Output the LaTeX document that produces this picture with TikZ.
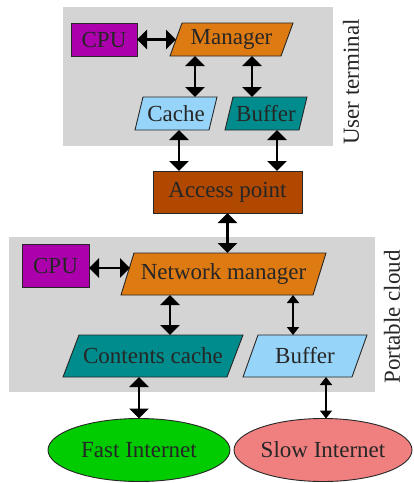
\documentclass[tikz,border=0pt]{standalone}
\usepackage{fontspec}
\setmainfont{Liberation Serif}
\usetikzlibrary{arrows.meta,shapes.geometric,calc,backgrounds}
\definecolor{cpuc}{RGB}{172,0,172}
\definecolor{mgrc}{RGB}{222,122,18}
\definecolor{cachec}{RGB}{150,212,250}
\definecolor{bufc}{RGB}{0,140,140}
\definecolor{apc}{RGB}{176,72,0}
\definecolor{grayc}{RGB}{212,212,212}
\definecolor{fastc}{RGB}{0,204,0}
\definecolor{slowc}{RGB}{240,128,128}
\tikzset{
  boxline/.style={draw=black!85, line width=0.9pt},
  txt/.style={rectangle, draw=none, inner sep=0pt, outer sep=0pt, text=black!85},
  rectbox/.style={rectangle, boxline, inner sep=0pt, outer sep=0pt, text=black!85},
  ellbox/.style={ellipse, boxline, inner sep=0pt, outer sep=0pt, text=black!85},
  arrT/.style={line width=2.8pt, {Triangle[width=19pt,length=10pt]}-{Triangle[width=19pt,length=10pt]}},
  arrS/.style={line width=1.8pt, {Triangle[width=12pt,length=8pt]}-{Triangle[width=12pt,length=8pt]}},
  sidelabel/.style={rotate=90, text=black!85},
  region/.style={fill=grayc, draw=none}
}
\newcommand\para[8]{%
  \node[txt, minimum width=#4pt, minimum height=#5pt] (#1) at (#2,#3) {#8};
  \begin{scope}[on background layer]
    \filldraw[fill=#7, boxline] ([xshift=#6pt]#1.north west) -- (#1.north east)
      -- ([xshift=-#6pt]#1.south east) -- (#1.south west) -- cycle;
  \end{scope}}
\begin{document}
\begin{tikzpicture}[x=1pt,y=-1pt,font=\fontsize{23}{25}\selectfont]
\useasboundingbox (0,0) rectangle (414,483);
\begin{scope}[on background layer]
  \fill[white] (0,0) rectangle (414,483);
  \fill[region] (63,7) rectangle (333,146);
  \fill[region] (9,237) rectangle (375,392);
\end{scope}
% user terminal
\node[rectbox, fill=cpuc, minimum width=66pt, minimum height=33pt] (cpu1) at (104,39.5) {CPU};
\para{mgr}{231.5}{39.5}{123}{33}{12}{mgrc}{Manager}
\para{cache}{176}{113.5}{82}{33}{8}{cachec}{Cache}
\para{buf1}{266}{113.5}{82}{33}{8}{bufc}{Buffer}
\node[sidelabel] (ut) at (351,82) {User terminal};
% access point
\node[rectbox, fill=apc, minimum width=149pt, minimum height=42pt] (ap) at (227.5,192) {Access point};
% portable cloud
\node[rectbox, fill=cpuc, minimum width=67pt, minimum height=43pt] (cpu2) at (55.5,265.5) {CPU};
\para{nm}{223.5}{274}{205}{42}{13}{mgrc}{Network manager}
\para{cc}{153}{356}{180}{42}{16}{bufc}{Contents cache}
\para{buf2}{305}{356}{124}{42}{15}{cachec}{Buffer}
\node[sidelabel] (pc) at (392,317) {Portable cloud};
% internet
\node[ellbox, fill=fastc, minimum width=182pt, minimum height=63pt] (fast) at (139,450) {Fast Internet};
\node[ellbox, fill=slowc, minimum width=178pt, minimum height=63pt] (slow) at (323,450) {Slow Internet};
% connectors
\draw[arrT] (cpu1.east) -- ([xshift=6pt]mgr.west);
\draw[arrT] ([xshift=19pt]cache.north) -- ([xshift=19pt]cache.north |- mgr.south);
\draw[arrT] ([xshift=-14pt]buf1.north) -- ([xshift=-14pt]buf1.north |- mgr.south);
\draw[arrT] ([xshift=3pt]cache.south) -- ([xshift=3pt]cache.south |- ap.north);
\draw[arrT] ([xshift=11pt]buf1.south) -- ([xshift=11pt]buf1.south |- ap.north);
\draw[arrT] (ap.south) -- (ap.south |- nm.north);
\draw[arrT] ([yshift=-2.5pt]cpu2.east) -- ([yshift=-2.5pt,xshift=9pt]cpu2.east -| nm.west);
\draw[arrT] ([xshift=17pt]cc.north) -- ([xshift=17pt]cc.north |- nm.south);
\draw[arrS] ([xshift=-12pt]buf2.north) -- ([xshift=-12pt]buf2.north |- nm.south);
\draw[arrT] (fast.north) -- (fast.north |- cc.south);
\draw[arrS] ([xshift=3pt]slow.north) -- ([xshift=3pt]slow.north |- buf2.south);
\end{tikzpicture}
\end{document}
